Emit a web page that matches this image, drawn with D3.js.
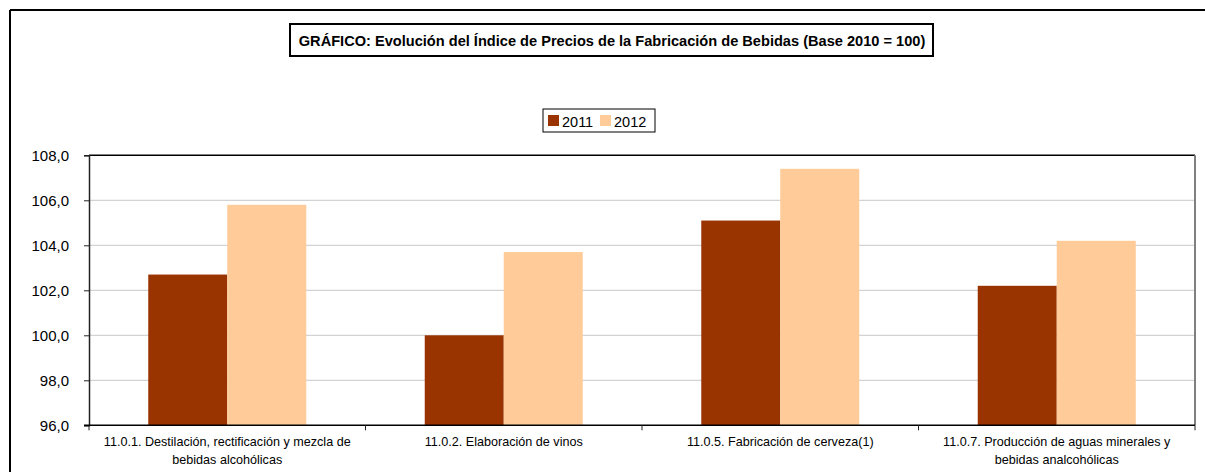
<!DOCTYPE html>
<html>
<head>
<meta charset="utf-8">
<script src="https://cdn.jsdelivr.net/npm/d3@7"></script>
<style>
  body { margin: 0; background: #fff; }
  text { font-family: Arial, "Liberation Sans", sans-serif; }
</style>
</head>
<body>
<svg id="chart" width="1205" height="472"></svg>
<script>
// categories and series
const categories = [
  ["11.0.1. Destilación, rectificación y mezcla de", "bebidas alcohólicas"],
  ["11.0.2. Elaboración de vinos"],
  ["11.0.5. Fabricación de cerveza(1)"],
  ["11.0.7. Producción de aguas minerales y", "bebidas analcohólicas"]
];
const seriesNames = ["2011", "2012"];
const values2011 = [102.7, 100.0, 105.1, 102.2];
const values2012 = [105.8, 103.7, 107.4, 104.2];
const yTicks = [96, 98, 100, 102, 104, 106, 108];
const colors = ["#993300", "#FFCC99"];

const svg = d3.select("#chart"),
  width = +svg.attr("width"),
  height = +svg.attr("height");

// outer frame (top + left only visible)
svg.append("line").attr("x1", 10).attr("x2", width).attr("y1", 10).attr("y2", 10)
  .attr("stroke", "#000").attr("stroke-width", 2);
svg.append("line").attr("x1", 10).attr("x2", 10).attr("y1", 10).attr("y2", height)
  .attr("stroke", "#000").attr("stroke-width", 2);

// title box
const title = svg.append("g");
title.append("rect").attr("x", 290).attr("y", 24).attr("width", 643).attr("height", 32)
  .attr("fill", "#fff").attr("stroke", "#000").attr("stroke-width", 2);
title.append("text").attr("x", 612).attr("y", 45.5).attr("text-anchor", "middle")
  .style("font-size", "14.6px").style("font-weight", "bold")
  .text("GRÁFICO: Evolución del Índice de Precios de la Fabricación de Bebidas (Base 2010 = 100)");

// plot area
const margin = { left: 89, right: 1195, top: 155.3, bottom: 425.3 };

const x0 = d3.scaleBand().domain(d3.range(categories.length))
  .range([margin.left, margin.right]).paddingInner(0).paddingOuter(0);
const bw = x0.bandwidth() / 3.5;   // gap width 150%
const x1 = d3.scaleBand().domain(seriesNames).range([0, bw * 2]);

const y = d3.scaleLinear().domain([96, 108]).range([margin.bottom, margin.top]);

// gridlines
svg.append("g").selectAll("line").data(yTicks.slice(1, -1)).enter().append("line")
  .attr("x1", margin.left).attr("x2", margin.right)
  .attr("y1", d => y(d)).attr("y2", d => y(d))
  .attr("stroke", "#c8c8c8").attr("stroke-width", 1);

// bars
const data = categories.map((c, i) => ({ i: i, vals: [values2011[i], values2012[i]] }));
const groups = svg.append("g").selectAll("g").data(data).enter().append("g")
  .attr("transform", d => "translate(" + (x0(d.i) + bw * 0.75) + ",0)");
groups.selectAll("rect").data(d => d.vals.map((v, k) => ({ k: k, v: v }))).enter().append("rect")
  .attr("x", d => x1(seriesNames[d.k]))
  .attr("width", x1.bandwidth())
  .attr("y", d => y(d.v))
  .attr("height", d => y(96) - y(d.v))
  .attr("fill", d => colors[d.k]);

// top and right border of plot
svg.append("line").attr("x1", margin.left).attr("x2", margin.right)
  .attr("y1", margin.top).attr("y2", margin.top).attr("stroke", "#000").attr("stroke-width", 1.5);
svg.append("line").attr("x1", margin.right).attr("x2", margin.right)
  .attr("y1", margin.top).attr("y2", margin.bottom).attr("stroke", "#808080").attr("stroke-width", 2);

// y axis
const yAxis = svg.append("g").attr("transform", "translate(" + margin.left + ",0)")
  .call(d3.axisLeft(y).tickValues(yTicks).tickSize(5).tickPadding(15)
    .tickFormat(d => d3.format(".1f")(d).replace(".", ",")));
yAxis.select(".domain").attr("stroke", "#222").attr("stroke-width", 1.5);
yAxis.selectAll(".tick line").attr("stroke", "#222");
yAxis.selectAll("text").style("font-size", "15px").attr("fill", "#000");

// x axis
const xAxis = svg.append("g").attr("transform", "translate(0," + margin.bottom + ")");
xAxis.append("line").attr("x1", margin.left - 5).attr("x2", margin.right)
  .attr("stroke", "#000").attr("stroke-width", 1.5);
xAxis.selectAll("line.tk").data(d3.range(categories.length + 1)).enter().append("line")
  .attr("class", "tk")
  .attr("x1", d => margin.left + d * x0.bandwidth())
  .attr("x2", d => margin.left + d * x0.bandwidth())
  .attr("y1", 0).attr("y2", 5).attr("stroke", "#222");
const labels = xAxis.selectAll("text").data(categories).enter().append("text")
  .attr("x", (d, i) => x0(i) + x0.bandwidth() / 2)
  .attr("y", 21)
  .attr("text-anchor", "middle")
  .style("font-size", "12.6px").attr("fill", "#000");
labels.selectAll("tspan").data(d => d).enter().append("tspan")
  .attr("x", function () { return d3.select(this.parentNode).attr("x"); })
  .attr("dy", (d, k) => k === 0 ? 0 : 18)
  .text(d => d);

// legend
const legend = svg.append("g");
legend.append("rect").attr("x", 543).attr("y", 109).attr("width", 112).attr("height", 23)
  .attr("fill", "#fff").attr("stroke", "#000").attr("stroke-width", 1);
const lx = [548, 600];
seriesNames.forEach((s, k) => {
  legend.append("rect").attr("x", lx[k]).attr("y", 115).attr("width", 11).attr("height", 11)
    .attr("fill", colors[k]);
  legend.append("text").attr("x", lx[k] + 14).attr("y", 126.5)
    .style("font-size", "14.5px").text(s);
});
</script>
</body>
</html>
